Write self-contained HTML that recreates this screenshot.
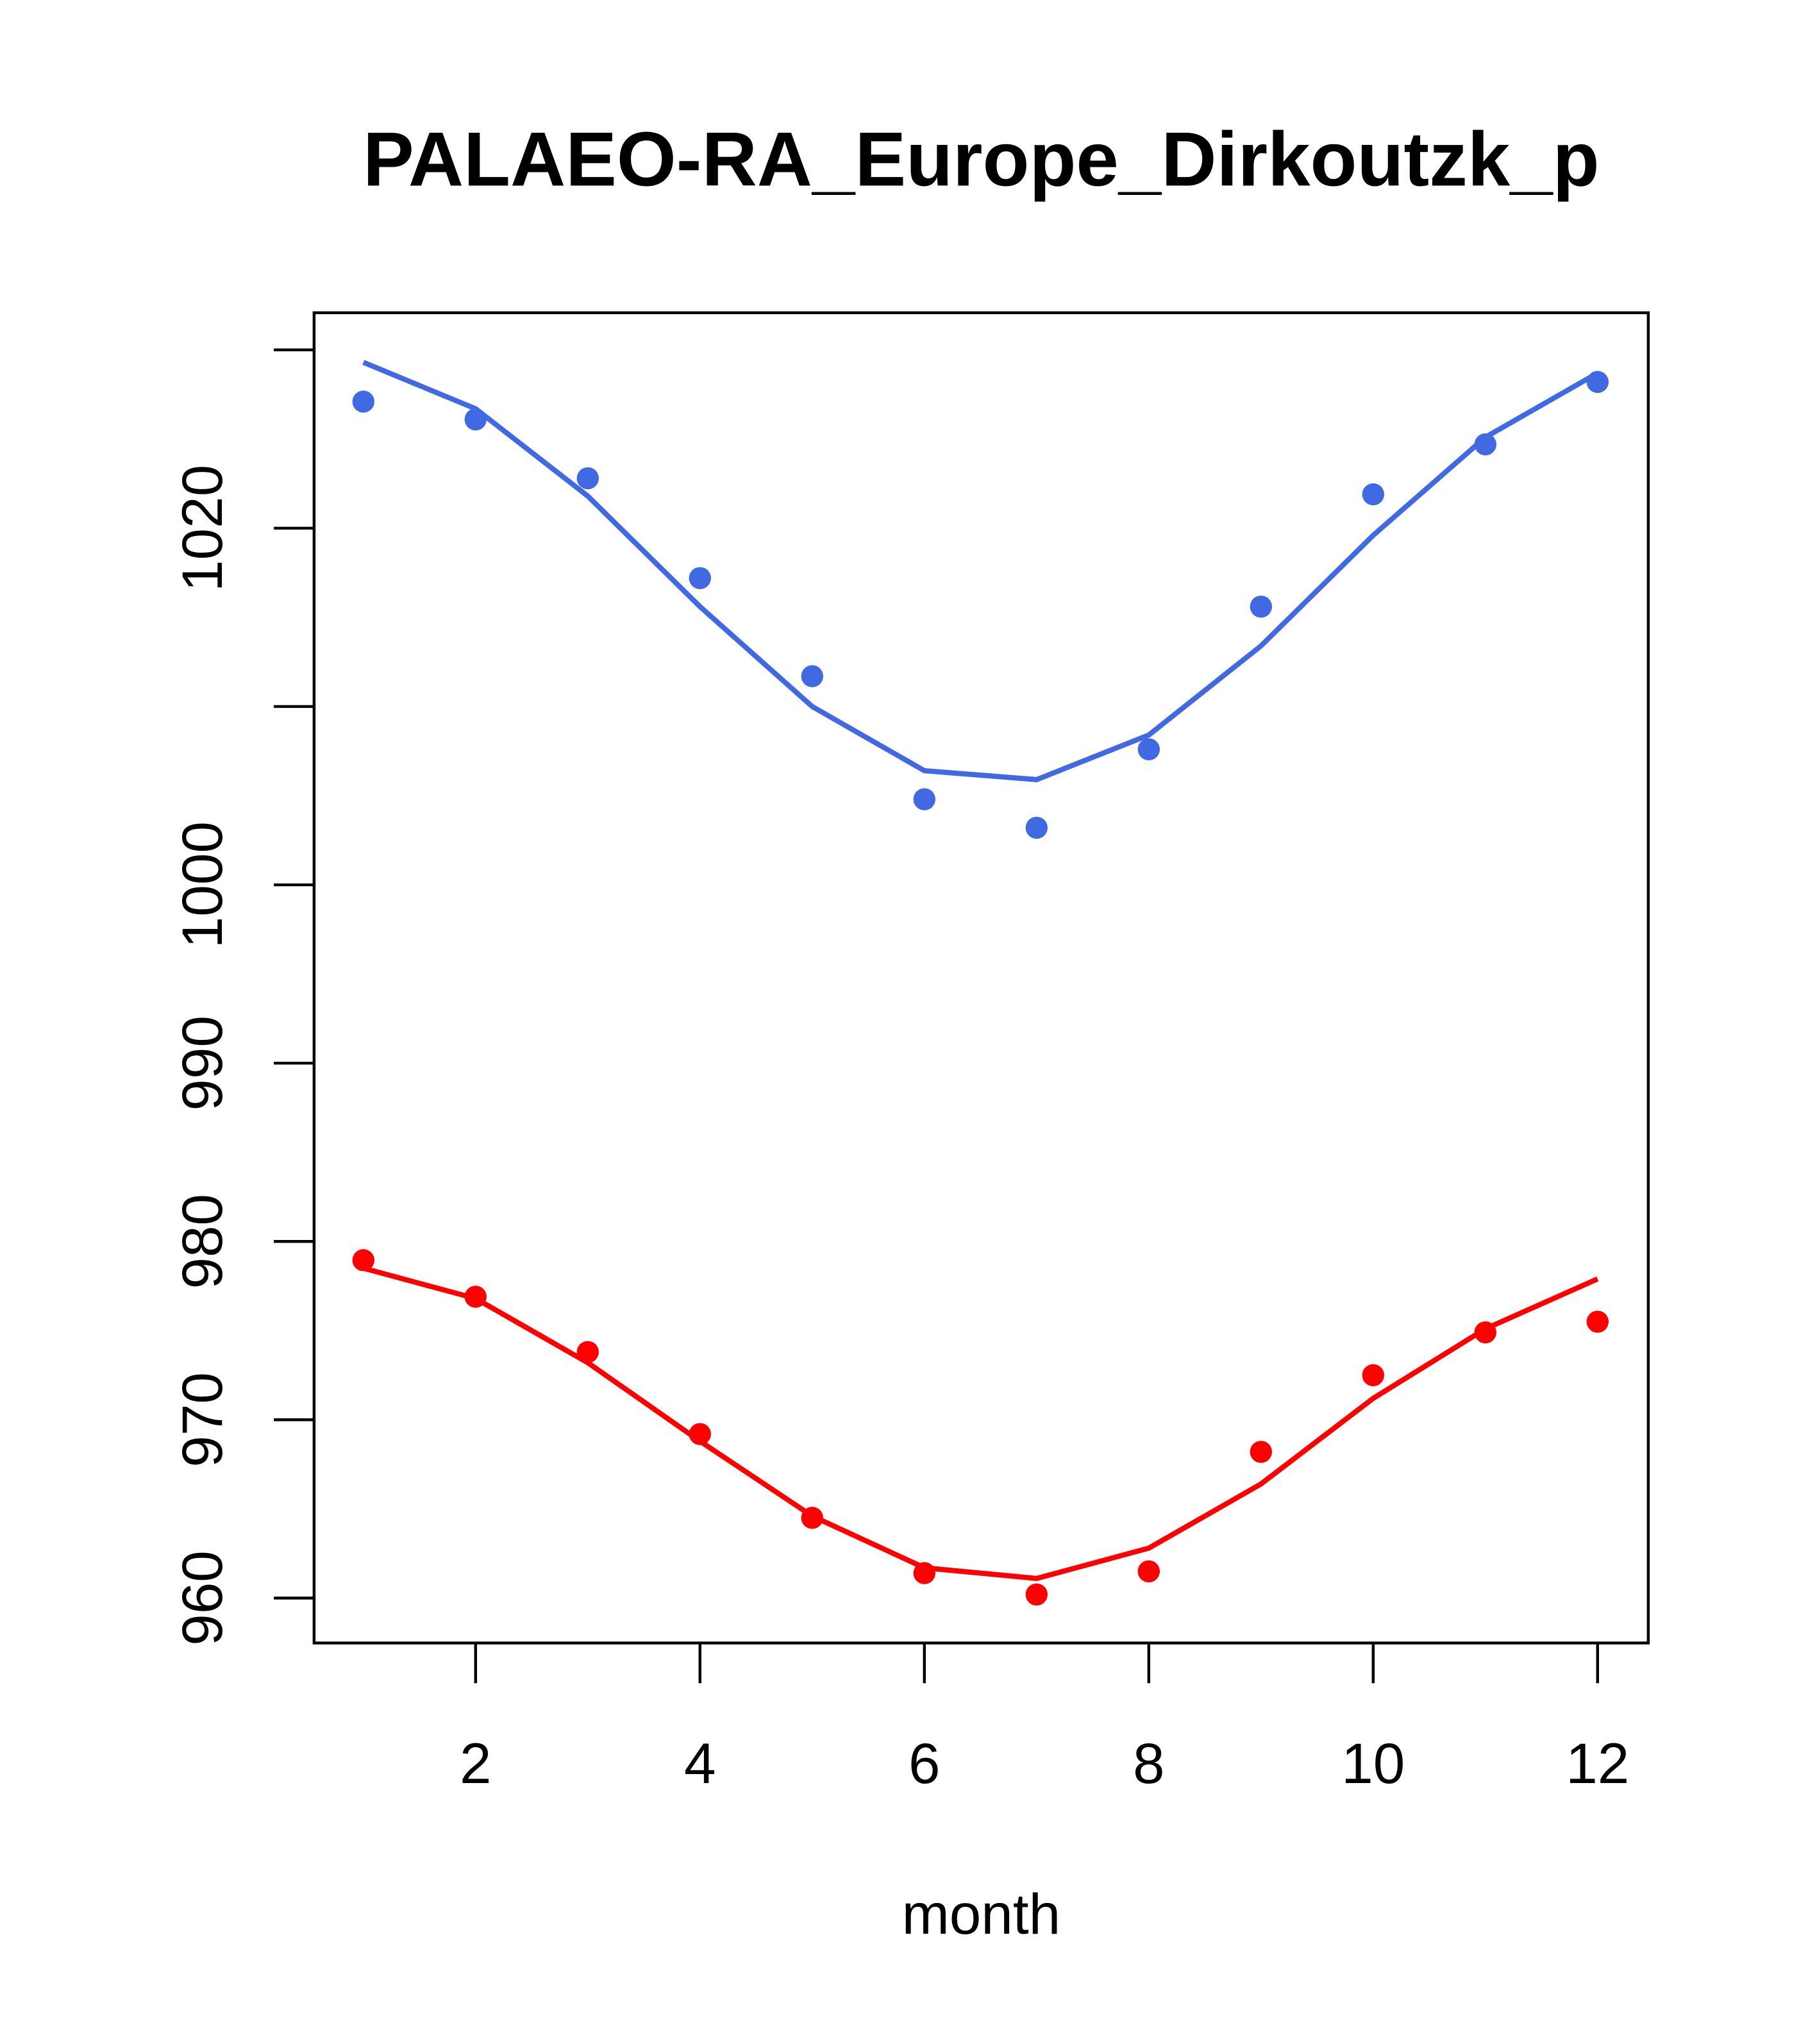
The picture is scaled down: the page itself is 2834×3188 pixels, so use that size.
<!DOCTYPE html>
<html><head><meta charset="utf-8">
<style>html,body{margin:0;padding:0;background:#fff;}svg{display:block;}</style>
</head><body>
<svg id="chart" width="2834" height="3188" viewBox="0 0 1400 1575" preserveAspectRatio="none" xmlns="http://www.w3.org/2000/svg" font-family="Liberation Sans, sans-serif">
<rect width="1400" height="1575" fill="#fff"/>
<text x="756" y="143" text-anchor="middle" font-size="59" font-weight="bold">PALAEO-RA_Europe_Dirkoutzk_p</text>
<rect x="242" y="241" width="1028" height="1025" fill="none" stroke="#000" stroke-width="2.2"/>
<text x="756" y="1490" text-anchor="middle" font-size="44">month</text>
<g id="axes"></g>
<g id="marks"></g>
</svg>
<script>
const months = [1,2,3,4,5,6,7,8,9,10,11,12];
const bluePoints = [1027.1,1026.1,1022.8,1017.2,1011.7,1004.8,1003.2,1007.6,1015.6,1021.9,1024.7,1028.2];
const blueLine = [1029.3,1026.7,1021.8,1015.6,1010.0,1006.4,1005.9,1008.4,1013.4,1019.6,1025.1,1028.7];
const redPoints = [978.95,976.9,973.8,969.2,964.5,961.4,960.2,961.5,968.2,972.5,974.9,975.5];
const redLine = [978.5,976.8,973.2,968.8,964.6,961.7,961.1,962.8,966.4,971.2,975.1,977.9];
const xTicks = [2,4,6,8,10,12];
const yTicks = [960,970,980,990,1000,1010,1020,1030];
const yTickLabels = ["960","970","980","990","1000","","1020",""];

const NS = "http://www.w3.org/2000/svg";
const sx = v => 280 + (v - 1) * 86.45;
const sy = v => 407 - (v - 1020) * 13.74;
const axes = document.getElementById('axes');
const marks = document.getElementById('marks');
function mk(tag, attrs, parent){const e=document.createElementNS(NS,tag);for(const k in attrs)e.setAttribute(k,attrs[k]);parent.appendChild(e);return e;}

xTicks.forEach((t)=>{
  const l = mk('line',{x1:sx(t),x2:sx(t),y1:1266,y2:1297,stroke:'#000','stroke-width':2.2},axes);
  
  
  const tx = mk('text',{x:sx(t),y:1374,'text-anchor':'middle','font-size':44},axes);
  tx.textContent = t;
  
  
});
yTicks.forEach((t,i)=>{
  const l = mk('line',{x1:211,x2:242,y1:sy(t),y2:sy(t),stroke:'#000','stroke-width':2.2},axes);
  
  
  if(yTickLabels[i]){
    const tx = mk('text',{x:0,y:0,'text-anchor':'middle','font-size':44,transform:`translate(171,${sy(t)}) rotate(-90)`},axes);
    tx.textContent = yTickLabels[i];
    
    
  }
});
function series(line, pts, color, name){
  const p = mk('polyline',{points:months.map((m,i)=>sx(m)+','+sy(line[i])).join(' '),fill:'none',stroke:color,'stroke-width':4},marks);
  
  
  months.forEach((m,i)=>{
    const c = mk('circle',{cx:sx(m),cy:sy(pts[i]),r:8.5,fill:color},marks);
    
    
  });
}
series(blueLine, bluePoints, '#4169E1', 'blue-series');
series(redLine, redPoints, '#FF0000', 'red-series');
</script>
</body></html>
